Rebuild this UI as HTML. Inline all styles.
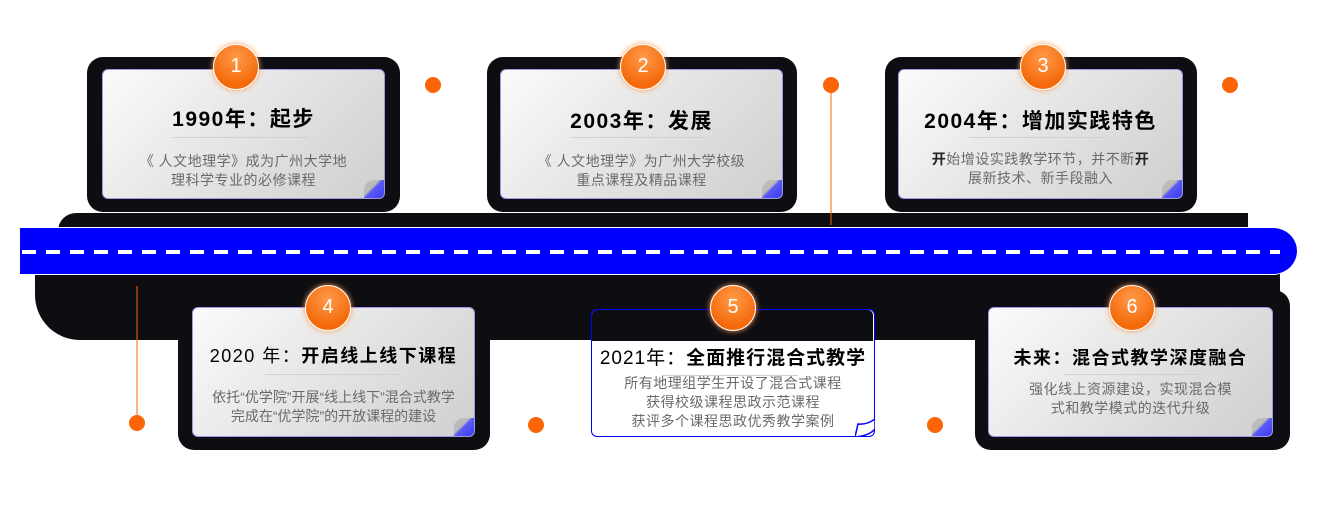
<!DOCTYPE html>
<html><head><meta charset="utf-8"><style>
*{margin:0;padding:0;box-sizing:border-box}
body{width:1317px;height:511px;background:#fff;position:relative;overflow:hidden;font-family:"Liberation Sans","Noto Sans CJK SC",sans-serif}
.a{position:absolute}
.dark{background:#0e0d12}
.card{position:absolute;border:1px solid #9a98e8;border-radius:6px;background:linear-gradient(135deg,#fbfbfb,#e4e4e4 50%,#cfcfcf);text-align:center;overflow:hidden}
.card .fold{position:absolute;right:0;bottom:0;width:20px;height:18px;background:linear-gradient(135deg,#bbb 40%,#5a5af5 50%,#3b3bf0);border-top-left-radius:10px}
.t{font-weight:bold;font-size:21px;letter-spacing:1.5px;color:#000;position:absolute;left:0;right:0}
.hr{position:absolute;height:1px;background:#d0d0d0}
.d{font-size:14px;color:#6a6a6a;line-height:19px;letter-spacing:0.5px;position:absolute;left:0;right:0}
.c{position:absolute;width:46px;height:46px;border-radius:50%;background:radial-gradient(circle at 50% 30%,#ff9a4a,#f46a0a 70%);border:1.5px solid #fff;color:#fff;font-size:20px;text-align:center;line-height:43px;box-shadow:0 0 6px #ff9a50}
.dot{position:absolute;width:16px;height:16px;border-radius:50%;background:#fb6508}
</style></head><body>
<div class="a dark" style="left:87px;top:57px;width:313px;height:155px;border-radius:16px"></div>
<div class="a dark" style="left:487px;top:57px;width:310px;height:155px;border-radius:16px"></div>
<div class="a dark" style="left:885px;top:57px;width:312px;height:155px;border-radius:16px"></div>
<div class="a dark" style="left:58px;top:213px;width:1190px;height:18px;border-top-left-radius:20px"></div>
<div class="a dark" style="left:35px;top:272px;width:1245px;height:68px;border-bottom-left-radius:45px"></div>
<div class="a dark" style="left:178px;top:290px;width:312px;height:160px;border-radius:16px"></div>
<div class="a dark" style="left:975px;top:290px;width:315px;height:160px;border-radius:16px"></div>
<div class="a" style="left:20px;top:227px;width:1277px;height:48px;background:#0000ff;border-radius:0 26px 26px 0;border-top:1px solid #fff;border-bottom:1px solid #fff"></div>
<svg class="a" style="left:0;top:0" width="1317" height="511">
<line x1="22" y1="252" x2="1280" y2="252" stroke="#fff" stroke-width="4" stroke-dasharray="14,10"/>
<line x1="831" y1="85" x2="831" y2="225" stroke="#fb6508" stroke-width="1"/>
<line x1="137" y1="286" x2="137" y2="423" stroke="#fb6508" stroke-width="1"/>
</svg>
<div class="dot" style="left:425px;top:77px"></div>
<div class="dot" style="left:823px;top:77px"></div>
<div class="dot" style="left:1222px;top:77px"></div>
<div class="dot" style="left:129px;top:415px"></div>
<div class="dot" style="left:528px;top:417px"></div>
<div class="dot" style="left:927px;top:417px"></div>
<div class="card" style="left:102px;top:69px;width:283px;height:130px">
<div class="t" style="top:33px">1990年：起步</div><div class="hr" style="left:70px;width:136px;top:67px"></div>
<div class="d" style="top:82px">《 人文地理学》成为广州大学地<br>理科学专业的必修课程</div><div class="fold"></div></div>
<div class="card" style="left:500px;top:69px;width:283px;height:130px">
<div class="t" style="top:35px">2003年：发展</div><div class="hr" style="left:70px;width:136px;top:67px"></div>
<div class="d" style="top:82px">《 人文地理学》为广州大学校级<br>重点课程及精品课程</div><div class="fold"></div></div>
<div class="card" style="left:898px;top:69px;width:285px;height:130px">
<div class="t" style="top:35px">2004年：增加实践特色</div><div class="hr" style="left:70px;width:136px;top:67px"></div>
<div class="d" style="top:80px"><b style="color:#222">开</b>始增设实践教学环节，并不断<b style="color:#222">开</b><br>展新技术、新手段融入</div><div class="fold"></div></div>
<div class="card" style="left:192px;top:307px;width:283px;height:130px">
<div class="t" style="top:34px;font-size:18px"><span style="font-weight:normal">2020 年：</span>开启线上线下课程</div><div class="hr" style="left:72px;width:136px;top:66px"></div>
<div class="d" style="top:80px;letter-spacing:0">依托“优学院”开展“线上线下”混合式教学<br>完成在“优学院”的开放课程的建设</div><div class="fold"></div></div>
<div class="a" style="left:591px;top:309px;width:284px;height:128px;border:1.5px solid #0000ff;border-radius:6px;background:#fff;text-align:center">
<div class="a dark" style="left:0;top:0;width:281px;height:31px;border-radius:5px 5px 0 0"></div>
<div class="t" style="top:33px;font-size:19px;font-weight:normal;letter-spacing:1px">2021年：<b>全面推行混合式教学</b></div><div class="hr" style="left:70px;width:136px;top:65px"></div>
<div class="d" style="top:64px;line-height:19px">所有地理组学生开设了混合式课程<br>获得校级课程思政示范课程<br>获评多个课程思政优秀教学案例</div>
<svg class="a" style="right:-1px;bottom:-1px" width="20" height="18"><path d="M0 18 L3 5 Q12 6 20 0 L20 10 Q14 17 0 18Z" fill="#fff" stroke="#0000ff" stroke-width="1.5"/></svg></div>
<div class="card" style="left:988px;top:307px;width:285px;height:130px">
<div class="t" style="top:36px;font-size:18px">未来：混合式教学深度融合</div><div class="hr" style="left:75px;width:136px;top:66px"></div>
<div class="d" style="top:72px">强化线上资源建设，实现混合模<br>式和教学模式的迭代升级</div><div class="fold"></div></div>
<div class="c" style="left:213px;top:44px">1</div>
<div class="c" style="left:620px;top:44px">2</div>
<div class="c" style="left:1020px;top:44px">3</div>
<div class="c" style="left:305px;top:285px">4</div>
<div class="c" style="left:710px;top:285px">5</div>
<div class="c" style="left:1109px;top:285px">6</div>
</body></html>
